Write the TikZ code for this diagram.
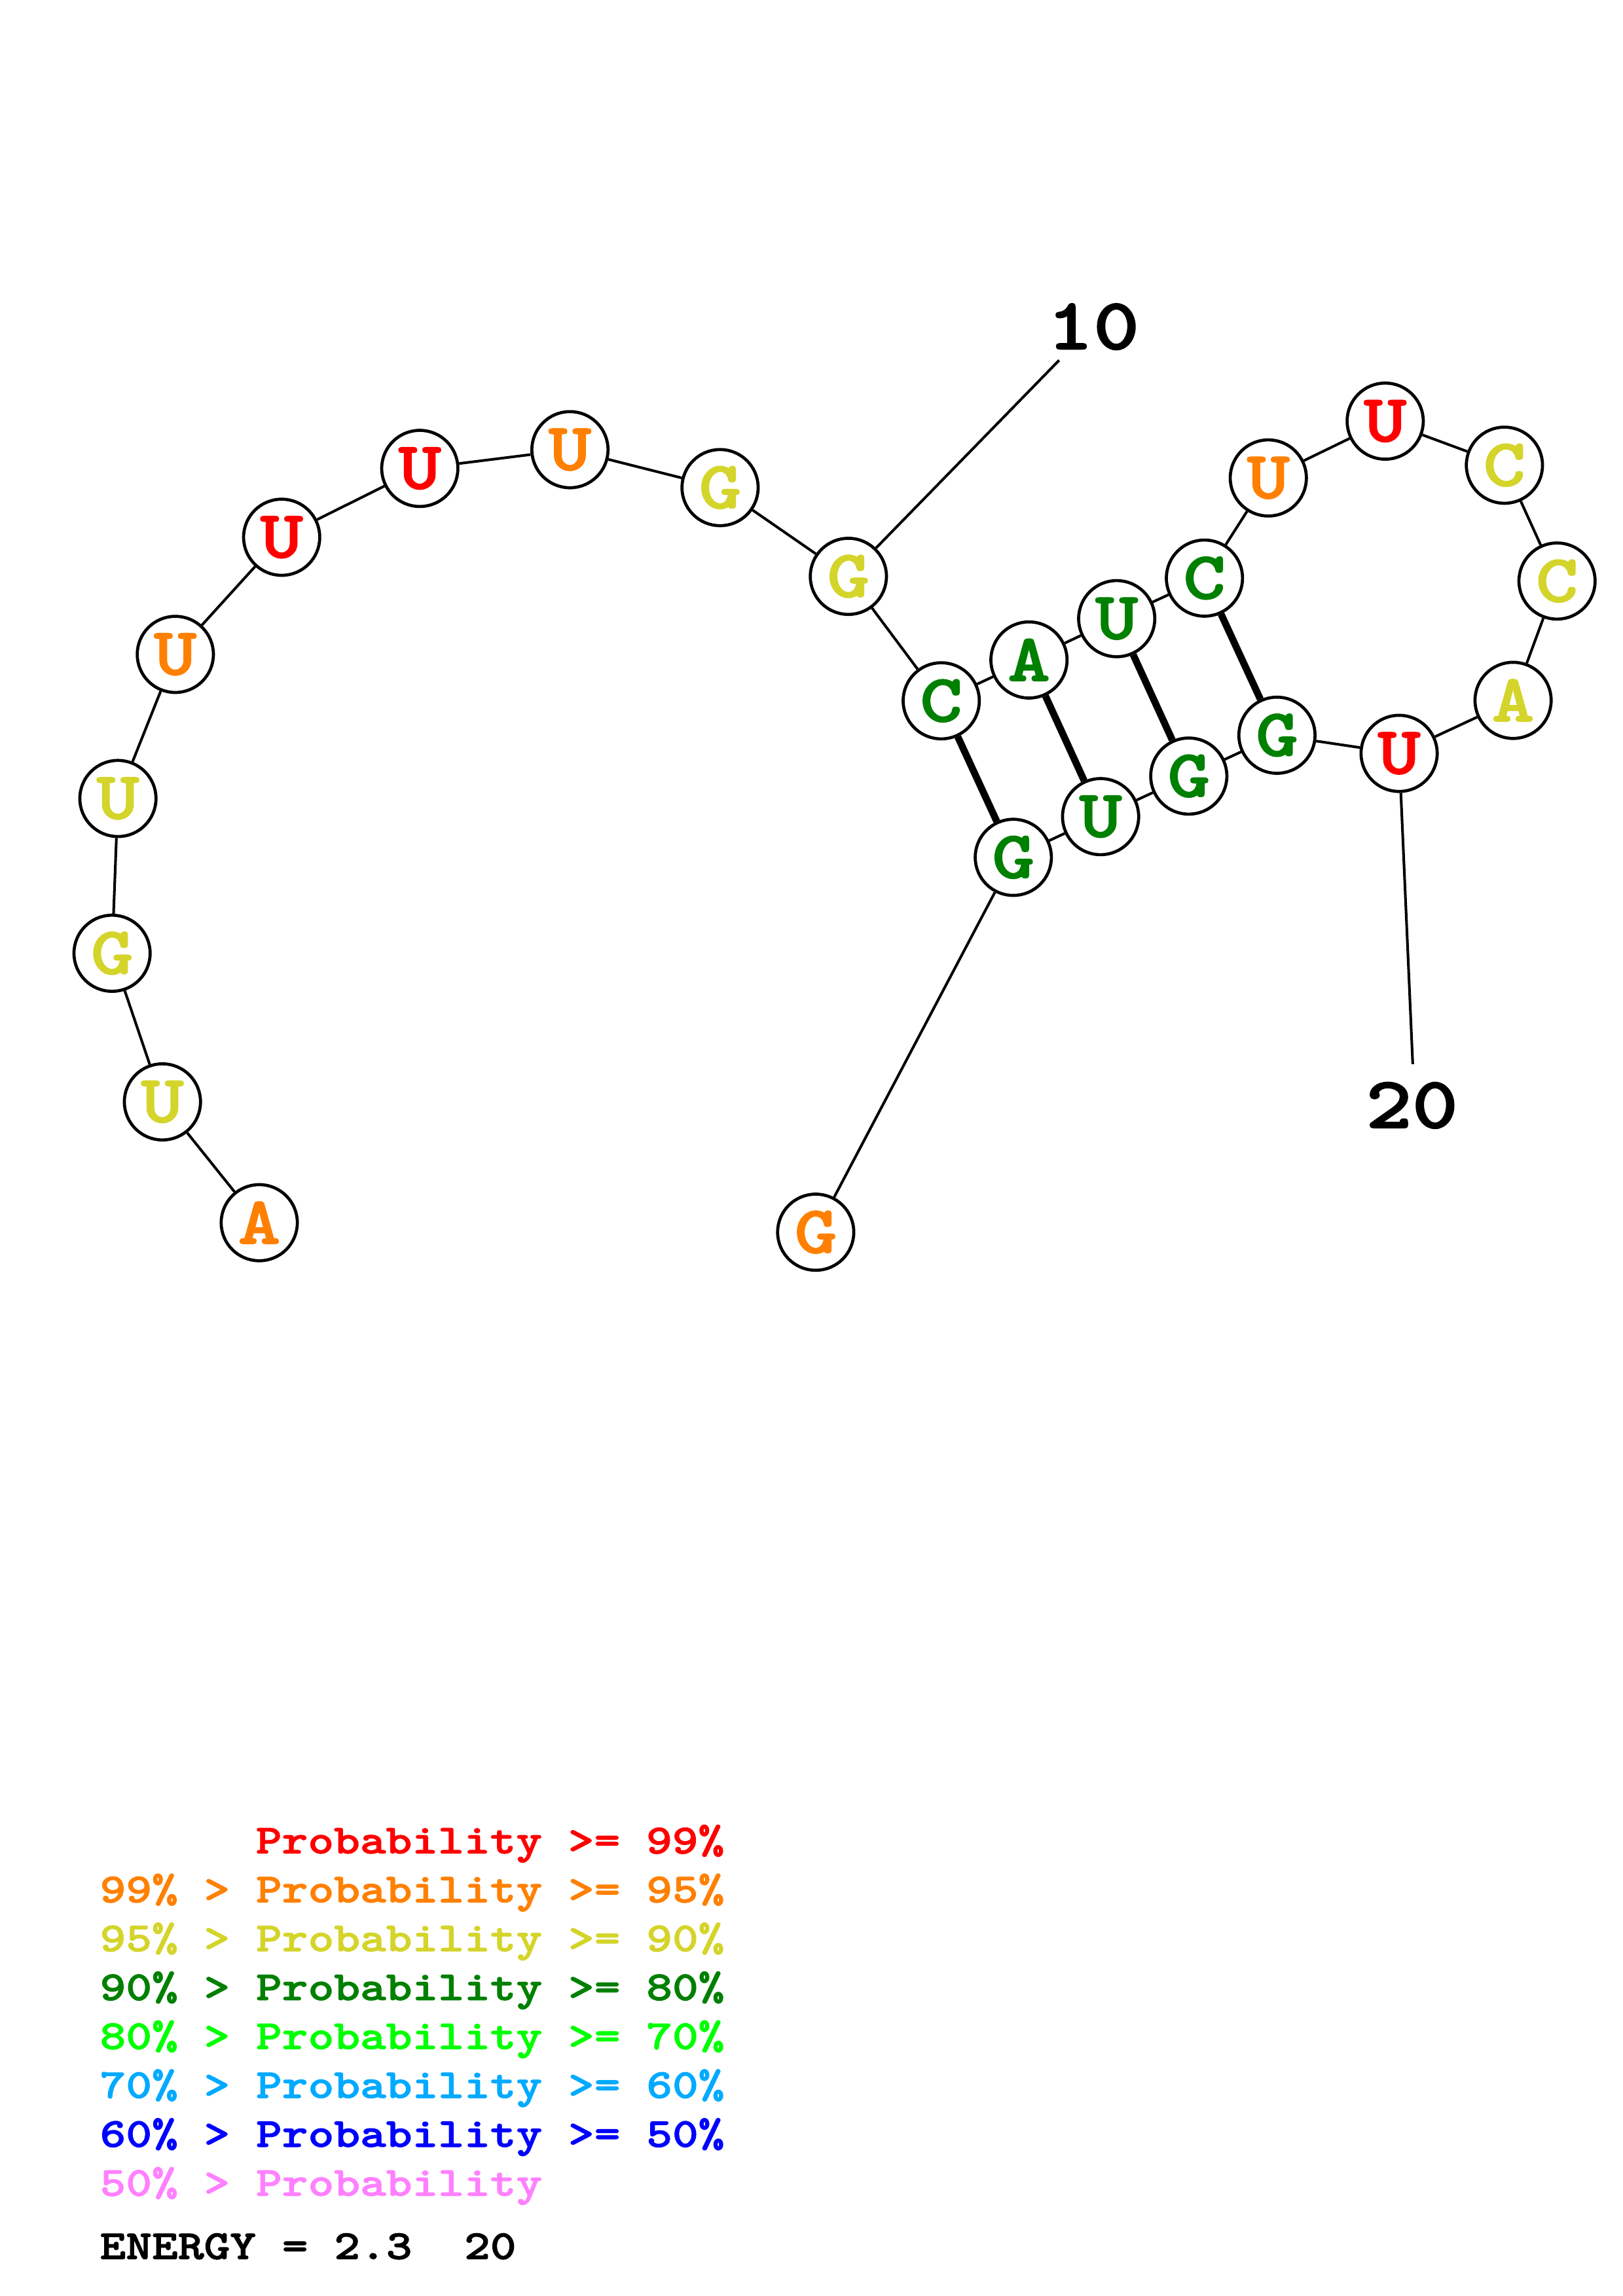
\documentclass[tikz,border=0pt]{standalone}
\usepackage{fontspec}
\newfontfamily\cour{lmmonolt10-bold.otf}[FakeStretch=1.2,FakeBold=1.6]
\definecolor{pred}{RGB}{255,0,0}
\definecolor{porange}{RGB}{255,128,0}
\definecolor{pyellow}{RGB}{212,212,42}
\definecolor{pgreen}{RGB}{0,128,0}
\definecolor{plgreen}{RGB}{0,255,0}
\definecolor{plblue}{RGB}{0,170,255}
\definecolor{pblue}{RGB}{0,0,255}
\definecolor{ppink}{RGB}{255,128,255}
\tikzset{
  basenode/.style={circle,draw=black,line width=2.1pt,fill=white,minimum size=52pt,inner sep=0pt,
    font=\cour\fontsize{46}{46}\selectfont},
  nred/.style={basenode,text=pred},
  norange/.style={basenode,text=porange},
  nyellow/.style={basenode,text=pyellow},
  ngreen/.style={basenode,text=pgreen},
  bb/.style={line width=1.8pt,black},
  pair/.style={line width=4.8pt,black},
  numlab/.style={anchor=base,font=\cour\fontsize{50}{50}\selectfont},
  leg/.style={anchor=base west,inner sep=0pt,font=\cour\fontsize{28.2}{28.2}\selectfont}
}
\begin{document}
\begin{tikzpicture}[x=1pt,y=-1pt]
\useasboundingbox (0,0) rectangle (1108,1568);
\fill[white] (0,0) rectangle (1108,1568);
% nodes
\node[norange] (n1) at (177,835) {A};
\node[nyellow] (n2) at (110.9,752.5) {U};
\node[nyellow] (n3) at (76.5,651) {G};
\node[nyellow] (n4) at (80.5,545.3) {U};
\node[norange] (n5) at (119.7,446.9) {U};
\node[nred] (n6) at (192.3,366.9) {U};
\node[nred] (n7) at (286.6,319.9) {U};
\node[norange] (n8) at (389.1,307.1) {U};
\node[nyellow] (n9) at (491.6,333) {G};
\node[nyellow] (n10) at (579.2,393.6) {G};
\node[ngreen] (n11) at (642.6,478.6) {C};
\node[ngreen] (n12) at (702.5,450.7) {A};
\node[ngreen] (n13) at (762.4,422.5) {U};
\node[ngreen] (n14) at (822.3,394.8) {C};
\node[norange] (n15) at (865.9,326.4) {U};
\node[nred] (n16) at (945.7,287.6) {U};
\node[nyellow] (n17) at (1027.1,317.7) {C};
\node[nyellow] (n18) at (1063,396.8) {C};
\node[nyellow] (n19) at (1033,478.3) {A};
\node[nred] (n20) at (955.2,514.5) {U};
\node[ngreen] (n21) at (871.8,502.1) {G};
\node[ngreen] (n22) at (811.6,530) {G};
\node[ngreen] (n23) at (751.4,557.7) {U};
\node[ngreen] (n24) at (691.8,585.5) {G};
\node[norange] (n25) at (556.9,841.5) {G};
% backbone
\foreach \a/\b in {1/2,2/3,3/4,4/5,5/6,6/7,7/8,8/9,9/10,10/11,11/12,12/13,13/14,14/15,15/16,16/17,17/18,18/19,19/20,20/21,21/22,22/23,23/24,24/25}
  \draw[bb] (n\a) -- (n\b);
% pairs
\draw[pair] (n11) -- (n24);
\draw[pair] (n12) -- (n23);
\draw[pair] (n13) -- (n22);
\draw[pair] (n14) -- (n21);
% position labels
\coordinate (t10) at (723.1,246);
\coordinate (t20) at (964.5,726.7);
\draw[bb] (n10) -- (t10);
\draw[bb] (n20) -- (t20);
\node[numlab] (l10) at (746.4,238.4) {10};
\node[numlab] (l20) at (964,770.2) {20};
% legend
\node[leg,text=pred] (g1) at (174.5,1265.7) {Probability >= 99\%};
\node[leg,text=porange] (g2) at (68,1299.1) {99\% > Probability >= 95\%};
\node[leg,text=pyellow] (g3) at (68,1332.5) {95\% > Probability >= 90\%};
\node[leg,text=pgreen] (g4) at (68,1365.9) {90\% > Probability >= 80\%};
\node[leg,text=plgreen] (g5) at (68,1399.3) {80\% > Probability >= 70\%};
\node[leg,text=plblue] (g6) at (68,1432.7) {70\% > Probability >= 60\%};
\node[leg,text=pblue] (g7) at (68,1466.1) {60\% > Probability >= 50\%};
\node[leg,text=ppink] (g8) at (68,1499.5) {50\% > Probability};
\node[leg,text=black] (en) at (68,1542.7) {ENERGY = 2.3~~20};
\end{tikzpicture}
\end{document}
